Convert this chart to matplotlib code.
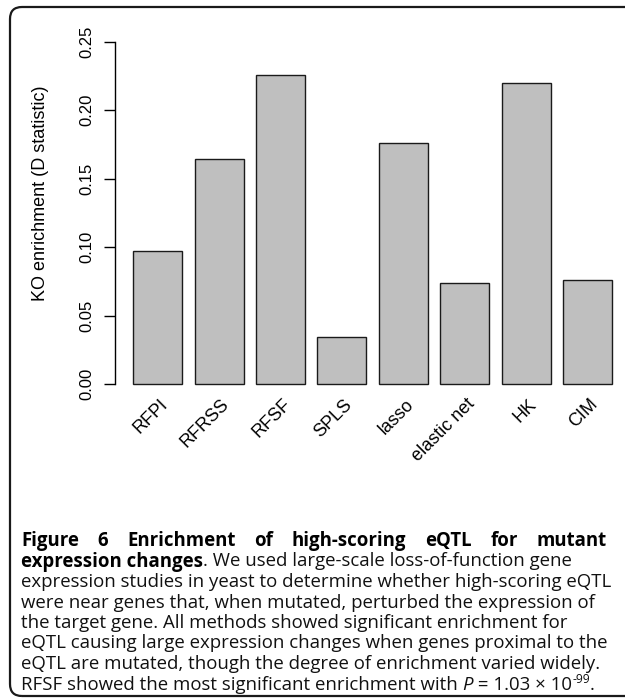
import matplotlib
matplotlib.use("Agg")
import matplotlib.pyplot as plt
from matplotlib.patches import FancyBboxPatch

methods = ["RFPI", "RFRSS", "RFSF", "SPLS", "lasso", "elastic net", "HK", "CIM"]
d_stat = [0.097, 0.164, 0.226, 0.034, 0.176, 0.074, 0.220, 0.076]
y_ticks = [0.00, 0.05, 0.10, 0.15, 0.20, 0.25]
y_tick_labels = ["0.00", "0.05", "0.10", "0.15", "0.20", "0.25"]
y_label = "KO enrichment (D statistic)"

title_line = "Figure 6 Enrichment of high-scoring eQTL for mutant"
second_bold = "expression changes"
second_rest = ". We used large-scale loss-of-function gene"
body_lines = [
    "expression studies in yeast to determine whether high-scoring eQTL",
    "were near genes that, when mutated, perturbed the expression of",
    "the target gene. All methods showed significant enrichment for",
    "eQTL causing large expression changes when genes proximal to the",
    "eQTL are mutated, though the degree of enrichment varied widely.",
]
last_line = [("RFSF showed the most significant enrichment with ", "normal"),
             ("P", "italic"), (" = 1.03 \u00d7 10", "normal"),
             ("-99", "sup"), (".", "normal")]

W, H = 625, 698
SANS = "Liberation Sans"
CAP = "Open Sans"

fig = plt.figure(figsize=(W / 100, H / 100), dpi=100)
renderer = fig.canvas.get_renderer()


def fx(x):
    return x / W


def fy(y):
    return 1 - y / H


# plot area, placed in pixels of the 625x698 canvas
ax = fig.add_axes([fx(115), fy(395), 505 / W, 365 / H])
centers = [0.7 + 1.2 * i for i in range(len(methods))]
ax.bar(centers, d_stat, width=0.96, color="#bfbfbf",
       edgecolor="#1a1a1a", linewidth=1.0)
ax.set_xlim(-0.134, 9.735)
ax.set_ylim(-0.00803, 0.2585)
for s in ("top", "right", "bottom"):
    ax.spines[s].set_visible(False)
ax.spines["left"].set_bounds(0, 0.25)
ax.spines["left"].set_linewidth(1.0)
ax.set_yticks(y_ticks)
ax.set_yticklabels(y_tick_labels, rotation=90, va="center",
                   fontsize=12, family=SANS)
ax.tick_params(axis="y", length=8, width=1, pad=7)
ax.set_xticks([])
ax.patch.set_visible(False)

for c, m in zip(centers, methods):
    ax.text(c + 0.15, -0.013, m, rotation=45, ha="right", va="center",
            rotation_mode="anchor", fontsize=13, family=SANS, clip_on=False)

fig.text(fx(41), fy(193), y_label, rotation=90, ha="center", va="center",
         fontsize=13, family=SANS)

# rounded frame around figure + caption
frame = FancyBboxPatch((0.10, 0.02), 6.5, 6.89,
                       boxstyle="round,pad=0,rounding_size=0.12",
                       transform=fig.dpi_scale_trans, fill=False,
                       lw=1.6, ec="#1a1a1a")
fig.add_artist(frame)

# caption
x_left, x_right = 21, 607
probe = fig.text(0, 0, body_lines[3], fontsize=10, family=CAP)
cap_size = 10 * (x_right - x_left) / probe.get_window_extent(renderer).width
probe.remove()
line_gap = 20.5
base0 = 546


def width_of(txt, **kw):
    t = fig.text(0, 0, txt, **kw)
    w = t.get_window_extent(renderer).width
    t.remove()
    return w


def put(x, y, txt, **kw):
    fig.text(fx(x), fy(y), txt, va="baseline", ha="left", **kw)
    return x + width_of(txt, **kw)


# justified bold first line
words = title_line.split()
bold = dict(fontsize=cap_size, family=CAP, weight="bold")
ws = [width_of(w, **bold) for w in words]
gap = (x_right - x_left - sum(ws)) / (len(words) - 1)
x = x_left
for w, wd in zip(words, ws):
    put(x, base0, w, **bold)
    x += wd + gap

reg = dict(fontsize=cap_size, family=CAP, color="#111111")
x = put(x_left, base0 + line_gap, second_bold, **bold)
put(x, base0 + line_gap, second_rest, **reg)

for i, line in enumerate(body_lines):
    put(x_left, base0 + line_gap * (i + 2), line, **reg)

y = base0 + line_gap * 7
x = x_left
for txt, kind in last_line:
    if kind == "italic":
        x = put(x, y, txt, style="italic", **reg)
    elif kind == "sup":
        x = put(x, y - 0.5 * cap_size, txt,
                fontsize=cap_size * 0.65, family=CAP, color="#111111")
    else:
        x = put(x, y, txt, **reg)

fig.savefig("out.png", dpi=100)
